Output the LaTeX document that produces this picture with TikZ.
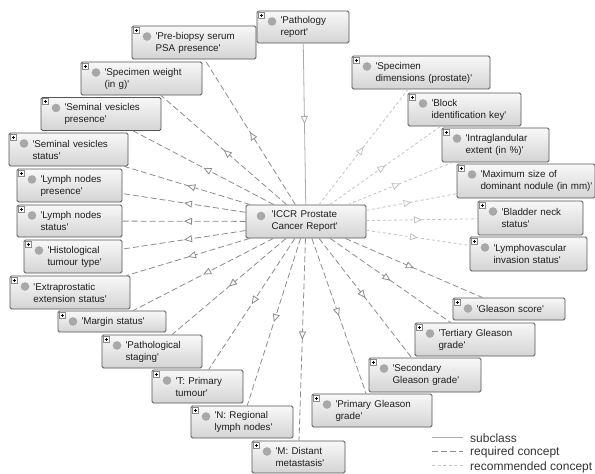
\documentclass[tikz,border=0pt]{standalone}
\usepackage{fontspec}
\newfontfamily\dgfont{Liberation Sans}
\usetikzlibrary{arrows.meta,decorations.markings}
\definecolor{boxline}{HTML}{555555}
\definecolor{boxtop}{HTML}{F8F8F8}
\definecolor{boxbot}{HTML}{D4D4D4}
\definecolor{boxtext}{HTML}{1E1E1E}
\definecolor{dotgray}{HTML}{A8A8A8}
\definecolor{plusgray}{HTML}{8A8A8A}
\definecolor{subgray}{HTML}{ABABAB}
\definecolor{reqgray}{HTML}{8C8C8C}
\definecolor{recgray}{HTML}{C2C2C2}
\definecolor{legendtext}{HTML}{333333}
\tikzset{
  concept/.style={draw=boxline, line width=0.9pt, rounded corners=1.5pt,
    top color=boxtop, bottom color=boxbot, text=boxtext,
    text width=#1-3pt, inner xsep=1.5pt, inner ysep=0pt, minimum height=33pt,
    align=left, font=\dgfont\fontsize{9.8}{12}\selectfont,
    execute at begin node={\leftskip=22pt},
    path picture={
      \fill[dotgray] ([shift={(15pt,-10.5pt)}]path picture bounding box.north west) circle (4.3pt);
      \draw[plusgray, line width=0.5pt, fill=white, sharp corners]
        ([shift={(1pt,-1pt)}]path picture bounding box.north west) rectangle ++(6pt,-6pt);
      \draw[black, line width=0.5pt, sharp corners]
        ([shift={(2.5pt,-4pt)}]path picture bounding box.north west) -- ++(3pt,0pt)
        ([shift={(4pt,-2.5pt)}]path picture bounding box.north west) -- ++(0pt,-3pt);
    }},
  mainconcept/.style={draw=boxline, line width=0.9pt, rounded corners=1.5pt,
    top color=boxtop, bottom color=boxbot, text=boxtext,
    text width=#1-3pt, inner xsep=1.5pt, inner ysep=0pt, minimum height=33pt,
    align=left, font=\dgfont\fontsize{9.8}{12}\selectfont,
    execute at begin node={\leftskip=24pt},
    path picture={
      \fill[dotgray] ([shift={(15pt,-11pt)}]path picture bounding box.north west) circle (4.3pt);
    }},
  midarrow/.style={postaction={decorate},
    decoration={markings, mark=at position 0.5 with {\arrow{Triangle[length=8pt, width=7pt, fill=white]}}}},
  subline/.style={draw=subgray, line width=0.8pt},
  reqline/.style={draw=reqgray, line width=0.8pt, dash pattern=on 6pt off 3pt},
  recline/.style={draw=recgray, line width=0.8pt, dash pattern=on 3pt off 2.5pt},
  sub/.style={subline, midarrow},
  req/.style={reqline, midarrow},
  rec/.style={recline, midarrow},
  legend/.style={text=legendtext, font=\dgfont\fontsize{12}{14}\selectfont, inner sep=0pt}
}
\begin{document}
\begin{tikzpicture}[x=1pt,y=-1pt]
\useasboundingbox (0,0) rectangle (595,474);
% centre
\node [mainconcept=120pt] (iccr) at (306,221.5) {'ICCR Prostate\\Cancer Report'};
\node [concept=92pt, minimum height=32pt] (report) at (303,27) {'Pathology\\report'};
% left side
\node [concept=124pt] (psa) at (194,42.5) {'Pre-biopsy serum\\PSA presence'};
\node [concept=121pt] (weight) at (141.5,78.5) {'Specimen weight\\(in g)'};
\node [concept=120pt] (svpres) at (101,114) {'Seminal vesicles\\presence'};
\node [concept=119pt] (svstat) at (68.5,149.5) {'Seminal vesicles\\status'};
\node [concept=105pt] (lnpres) at (69.5,185.5) {'Lymph nodes\\presence'};
\node [concept=105pt, minimum height=32pt] (lnstat) at (69.5,221) {'Lymph nodes\\status'};
\node [concept=98pt] (histo) at (73,256.5) {'Histological\\tumour type'};
\node [concept=120pt] (extra) at (70,292.5) {'Extraprostatic\\extension status'};
\node [concept=108pt, minimum height=21pt] (margin) at (112,321.5) {'Margin status'};
\node [concept=100pt] (pstage) at (152,351.5) {'Pathological\\staging'};
\node [concept=91pt] (tprim) at (197.5,386.5) {'T: Primary\\tumour'};
\node [concept=102pt, minimum height=32pt] (nreg) at (242,422) {'N: Regional\\lymph nodes'};
\node [concept=93pt, minimum height=32pt] (mdist) at (298.5,457) {'M: Distant\\metastasis'};
% right side
\node [concept=138pt] (sdim) at (421,72.5) {'Specimen\\dimensions (prostate)'};
\node [concept=113pt] (block) at (464.5,109.5) {'Block\\identification key'};
\node [concept=107pt, minimum height=34pt] (intra) at (495.5,145) {'Intraglandular\\extent (in \%)'};
\node [concept=138pt, minimum height=34pt] (maxsize) at (526,181) {'Maximum size of\\dominant nodule (in mm)'};
\node [concept=105pt, minimum height=34pt] (bladder) at (530.5,218) {'Bladder neck\\status'};
\node [concept=117pt, minimum height=34pt] (lymph) at (528.5,254) {'Lymphovascular\\invasion status'};
\node [concept=112pt, minimum height=22pt] (gscore) at (509,309) {'Gleason score'};
\node [concept=120pt] (tert) at (475,339.5) {'Tertiary Gleason\\grade'};
\node [concept=112pt, minimum height=34pt] (sec) at (425,375) {'Secondary\\Gleason grade'};
\node [concept=120pt] (prim) at (372,410.5) {'Primary Gleason\\grade'};
% connectors
\draw [sub] (report) -- (iccr);
\draw [req] (iccr) -- (psa);
\draw [req] (iccr) -- (weight);
\draw [req] (iccr) -- (svpres);
\draw [req] (iccr) -- (svstat);
\draw [req] (iccr) -- (lnpres);
\draw [req] (iccr) -- (lnstat);
\draw [req] (iccr) -- (histo);
\draw [req] (iccr) -- (extra);
\draw [req] (iccr) -- (margin);
\draw [req] (iccr) -- (pstage);
\draw [req] (iccr) -- (tprim);
\draw [req] (iccr) -- (nreg);
\draw [req] (iccr) -- (mdist);
\draw [rec] (iccr) -- (sdim);
\draw [rec] (iccr) -- (block);
\draw [rec] (iccr) -- (intra);
\draw [rec] (iccr) -- (maxsize);
\draw [rec] (iccr) -- (bladder);
\draw [rec] (iccr) -- (lymph);
\draw [req] (iccr) -- (gscore);
\draw [req] (iccr) -- (tert);
\draw [req] (iccr) -- (sec);
\draw [req] (iccr) -- (prim);
% legend
\node [legend, anchor=base west] (lsub) at (470,442) {subclass};
\node [legend, anchor=base west] (lreq) at (470,455.5) {required concept};
\node [legend, anchor=base west] (lrec) at (470,470) {recommended concept};
\draw [subline] ([shift={(-38pt,4.5pt)}]lsub.base west) -- ([shift={(-7pt,4.5pt)}]lsub.base west);
\draw [reqline] ([shift={(-38pt,4.5pt)}]lreq.base west) -- ([shift={(-7pt,4.5pt)}]lreq.base west);
\draw [recline] ([shift={(-38pt,4.5pt)}]lrec.base west) -- ([shift={(-7pt,4.5pt)}]lrec.base west);
\end{tikzpicture}
\end{document}
